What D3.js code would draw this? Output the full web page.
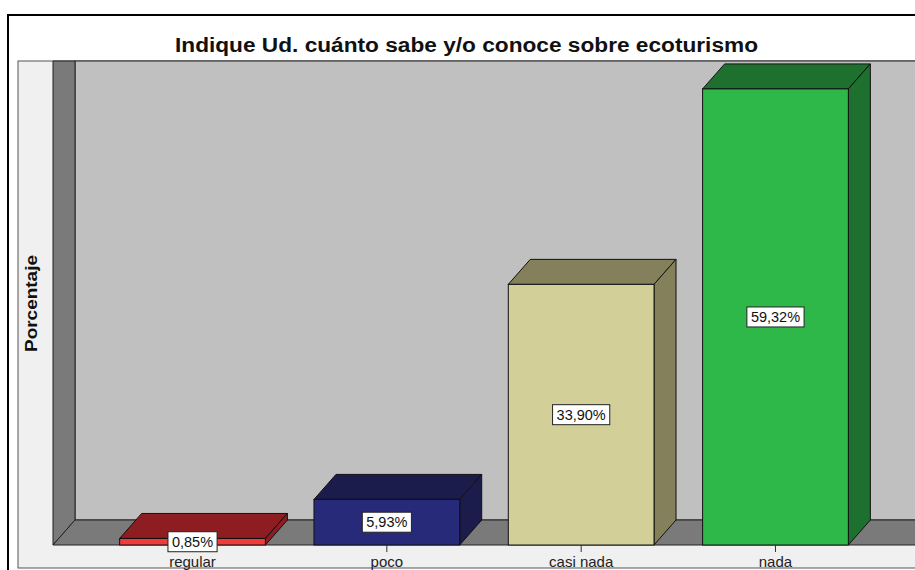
<!DOCTYPE html>
<html>
<head>
<meta charset="utf-8">
<script src="https://cdn.jsdelivr.net/npm/d3@7"></script>
<style>
  body { margin: 0; background: #ffffff; }
  svg { display: block; font-family: "Liberation Sans", Arial, sans-serif; }
</style>
</head>
<body>
<svg id="chart" width="915" height="570"></svg>
<script>
"use strict";

// données
var categories = ["regular", "poco", "casi nada", "nada"]
var percents = [0.85, 5.93, 33.90, 59.32]
var valueLabels = ["0,85%", "5,93%", "33,90%", "59,32%"]
var frontColors = ["#ef3b3c", "#272a78", "#d3cf99", "#2fb84a"]
var darkColors = ["#8e1d21", "#1b1c4b", "#83805b", "#1d702e"]

var title = "Indique Ud. cuánto sabe y/o conoce sobre ecoturismo"
var yTitle = "Porcentaje"
var yMax = 59.7

// profondeur de l'effet 3D
var depthX = 22
var depthY = 25

/**
 * Crée les échelles du graphique
 *
 * @param left, right   Bornes horizontales du plan avant
 * @param bottom, top   Bornes verticales du plan avant
 * @return {[Band, Linear]}
 */
function createScales(left, right, bottom, top) {
    var x = d3.scaleBand()
        .domain(categories)
        .range([left, right])
        .paddingInner(0.25)
        .paddingOuter(0.343)
    var y = d3.scaleLinear()
        .domain([0, yMax])
        .range([bottom, top])
    return [x, y]
}

function pts(arr) {
    return arr.map(p => p.join(",")).join(" ")
}

/**
 * Dessine le fond : panneau, murs et sol
 */
function drawBackground(svg, left, right, bottom, top) {
    // panneau gris clair
    svg.append("rect")
        .attr("x", 18).attr("y", top - depthY)
        .attr("width", 1000).attr("height", 568 - (top - depthY))
        .attr("fill", "#f0f0f0")
        .attr("stroke", "#555").attr("stroke-width", 1)

    // mur du fond
    svg.append("rect")
        .attr("x", left + depthX).attr("y", top - depthY)
        .attr("width", 1000).attr("height", bottom - top)
        .attr("fill", "#c0c0c0")
        .attr("stroke", "#222").attr("stroke-width", 1)

    // mur de gauche
    svg.append("polygon")
        .attr("points", pts([[left, top - depthY], [left + depthX, top - depthY],
            [left + depthX, bottom - depthY], [left, bottom]]))
        .attr("fill", "#7a7a7a")
        .attr("stroke", "#222").attr("stroke-width", 1)

    // sol
    svg.append("polygon")
        .attr("points", pts([[left, bottom], [left + depthX, bottom - depthY],
            [right + 50, bottom - depthY], [right + 50, bottom]]))
        .attr("fill", "#7a7a7a")
        .attr("stroke", "#222").attr("stroke-width", 1)
}

/**
 * Dessine les barres en 3D (dessus, côté, face)
 */
function drawBars(svg, x, y) {
    var bars = svg.append("g").selectAll("g")
        .data(categories)
        .enter()
        .append("g")

    bars.append("polygon")
        .attr("points", (d, i) => {
            var x0 = x(d), x1 = x(d) + x.bandwidth(), yt = y(percents[i])
            return pts([[x0, yt], [x0 + depthX, yt - depthY], [x1 + depthX, yt - depthY], [x1, yt]])
        })
        .attr("fill", (d, i) => darkColors[i])
        .attr("stroke", "#111").attr("stroke-width", 1).attr("stroke-linejoin", "round")

    bars.append("polygon")
        .attr("points", (d, i) => {
            var x1 = x(d) + x.bandwidth(), yt = y(percents[i]), yb = y(0)
            return pts([[x1, yt], [x1 + depthX, yt - depthY], [x1 + depthX, yb - depthY], [x1, yb]])
        })
        .attr("fill", (d, i) => darkColors[i])
        .attr("stroke", "#111").attr("stroke-width", 1).attr("stroke-linejoin", "round")

    bars.append("rect")
        .attr("x", d => x(d))
        .attr("y", (d, i) => y(percents[i]))
        .attr("width", x.bandwidth())
        .attr("height", (d, i) => y(0) - y(percents[i]))
        .attr("fill", (d, i) => frontColors[i])
        .attr("stroke", "#111").attr("stroke-width", 1)
}

/**
 * Axe des catégories sous le sol
 */
function drawXAxis(svg, x, bottom) {
    var g = svg.append("g")
    g.selectAll("line")
        .data(categories)
        .enter()
        .append("line")
        .attr("x1", d => x(d) + x.bandwidth() / 2)
        .attr("x2", d => x(d) + x.bandwidth() / 2)
        .attr("y1", bottom).attr("y2", bottom + 7)
        .attr("stroke", "#333").attr("stroke-width", 1)
    g.selectAll("text")
        .data(categories)
        .enter()
        .append("text")
        .attr("x", d => x(d) + x.bandwidth() / 2)
        .attr("y", bottom + 22)
        .attr("text-anchor", "middle")
        .attr("font-size", 15)
        .attr("fill", "#222")
        .text(d => d)
}

/**
 * Étiquettes de valeur au centre de la face avant
 */
function drawValueLabels(svg, x, y) {
    var labels = svg.append("g").selectAll("g")
        .data(categories)
        .enter()
        .append("g")
        .attr("transform", (d, i) => {
            var cx = x(d) + x.bandwidth() / 2
            var cy = (y(percents[i]) + y(0)) / 2
            return "translate(" + cx + "," + cy + ")"
        })

    labels.append("rect")
        .attr("fill", "#ffffff")
        .attr("stroke", "#222").attr("stroke-width", 1)

    labels.append("text")
        .attr("text-anchor", "middle")
        .attr("dy", "0.36em")
        .attr("font-size", 14.5)
        .attr("fill", "#111")
        .text((d, i) => valueLabels[i])

    labels.each(function() {
        var g = d3.select(this)
        var w = g.select("text").node().getComputedTextLength()
        g.select("rect")
            .attr("x", -w / 2 - 4).attr("y", -10)
            .attr("width", w + 8).attr("height", 20)
    })
}

function initChart() {
    var svg = d3.select("#chart")
    var left = 53, right = 915, bottom = 545, top = 86

    var [x, y] = createScales(left, right, bottom, top)

    drawBackground(svg, left, right, bottom, top)
    drawBars(svg, x, y)
    drawXAxis(svg, x, bottom)
    drawValueLabels(svg, x, y)

    // titre (glyphes étirés à la largeur de l'original)
    svg.append("text")
        .attr("x", 175).attr("y", 52)
        .attr("font-size", 19.5)
        .attr("font-weight", "bold")
        .attr("fill", "#111")
        .attr("textLength", 583)
        .attr("lengthAdjust", "spacingAndGlyphs")
        .text(title)

    // titre de l'axe y
    svg.append("text")
        .attr("transform", "translate(37,352) rotate(-90)")
        .attr("font-size", 17)
        .attr("font-weight", "bold")
        .attr("fill", "#111")
        .attr("textLength", 97)
        .attr("lengthAdjust", "spacingAndGlyphs")
        .text(yTitle)

    // cadre extérieur
    svg.append("rect")
        .attr("x", 8).attr("y", 15)
        .attr("width", 1000).attr("height", 1000)
        .attr("fill", "none")
        .attr("stroke", "#000").attr("stroke-width", 2)
}

initChart()
</script>
</body>
</html>
